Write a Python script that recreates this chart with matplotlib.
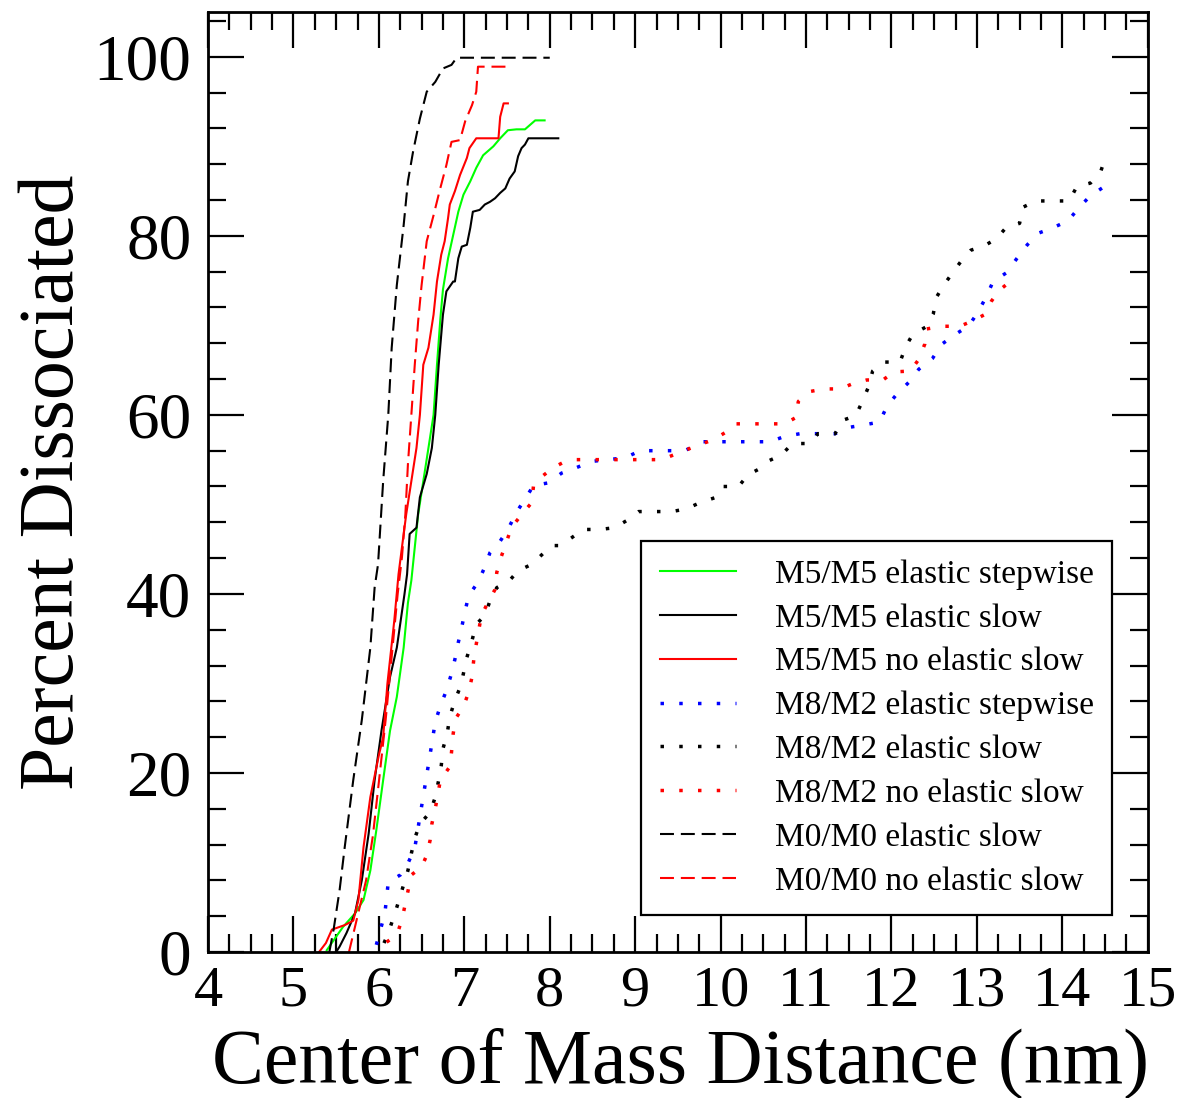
import matplotlib
matplotlib.use("Agg")
import matplotlib.pyplot as plt
from matplotlib.ticker import MultipleLocator

plt.rcParams["font.family"] = ["Liberation Serif", "DejaVu Serif"]

# M5/M5 curves (solid)
m5_step_x = [5.39, 5.47, 5.58, 5.72, 5.82, 5.90, 5.97, 6.05, 6.13, 6.21, 6.29, 6.34,
             6.38, 6.42, 6.46, 6.52, 6.58, 6.64, 6.68, 6.72, 6.75, 6.81, 6.87, 6.93,
             6.99, 7.07, 7.14, 7.22, 7.34, 7.42, 7.51, 7.61, 7.71, 7.83, 7.94]
m5_step_y = [0.2, 1.3, 2.8, 4.3, 5.8, 9.1, 13.6, 19.2, 24.7, 28.5, 34.0, 39.0,
             41.5, 45.2, 48.9, 52.6, 56.3, 60.0, 65.6, 70.8, 74.0, 77.5, 80.1, 82.7,
             84.6, 86.1, 87.6, 89.0, 90.0, 90.9, 91.8, 91.9, 91.9, 92.9, 92.9]

m5_slow_x = [5.50, 5.54, 5.62, 5.72, 5.80, 5.88, 5.95, 6.03, 6.13, 6.21, 6.30, 6.33,
             6.36, 6.44, 6.48, 6.56, 6.62, 6.66, 6.70, 6.75, 6.79, 6.87, 6.89, 6.93,
             6.97, 7.03, 7.07, 7.10, 7.18, 7.24, 7.30, 7.36, 7.42, 7.48, 7.53, 7.59,
             7.63, 7.67, 7.71, 7.75, 8.10]
m5_slow_y = [0.0, 0.6, 2.1, 4.3, 8.0, 13.2, 19.2, 24.7, 30.7, 34.0, 40.0, 42.2,
             46.7, 47.4, 50.8, 53.4, 56.3, 60.0, 65.6, 71.2, 73.8, 74.9, 74.9, 77.5,
             78.8, 79.0, 80.9, 82.7, 82.9, 83.5, 83.8, 84.2, 84.8, 85.3, 86.4, 87.2,
             88.9, 89.8, 90.2, 90.9, 90.9]

m5_noel_x = [5.30, 5.38, 5.45, 5.60, 5.70, 5.76, 5.82, 5.90, 6.00, 6.05, 6.10, 6.18,
             6.23, 6.27, 6.32, 6.38, 6.44, 6.48, 6.52, 6.58, 6.64, 6.68, 6.73, 6.77,
             6.81, 6.83, 6.89, 6.95, 7.03, 7.06, 7.14, 7.40, 7.42, 7.46, 7.51]
m5_noel_y = [0.0, 1.0, 2.5, 3.0, 3.5, 5.8, 11.7, 17.3, 22.0, 24.0, 30.0, 37.0,
             42.2, 45.2, 48.9, 52.6, 56.3, 60.0, 65.6, 67.5, 71.2, 74.9, 77.9, 79.4,
             82.0, 83.5, 85.0, 86.8, 88.7, 89.8, 90.9, 90.9, 93.3, 94.8, 94.8]

# M8/M2 curves (dotted)
m8_step_x = [5.97, 6.07, 6.11, 6.25, 6.34, 6.42, 6.48, 6.54, 6.60, 6.66, 6.72, 6.79,
             6.85, 6.89, 6.93, 6.97, 7.01, 7.05, 7.16, 7.24, 7.30, 7.42, 7.51, 7.61,
             7.71, 7.81, 7.98, 8.14, 8.31, 8.49, 8.68, 8.88, 9.06, 9.43, 9.60, 9.80,
             10.58, 10.75, 10.93, 11.34, 11.50, 11.69, 11.86, 11.95, 12.07, 12.21,
             12.32, 12.48, 12.59, 12.75, 12.91, 13.02, 13.11, 13.19, 13.35, 13.47,
             13.59, 13.72, 13.89, 14.07, 14.19, 14.32, 14.49]
m8_step_y = [0.8, 4.3, 7.8, 8.6, 9.9, 11.6, 15.1, 18.6, 22.1, 25.7, 27.5, 29.2,
             31.1, 32.7, 34.6, 36.3, 38.1, 39.8, 41.3, 43.0, 44.6, 45.9, 47.2, 49.1,
             50.6, 52.1, 52.4, 53.5, 54.1, 54.8, 55.0, 55.2, 56.0, 56.0, 56.1, 57.0,
             57.0, 57.6, 57.9, 57.9, 58.6, 58.9, 59.2, 61.0, 62.4, 63.7,
             65.1, 66.3, 67.9, 69.0, 70.0, 71.6, 73.2, 74.9, 75.9, 77.5,
             79.0, 80.3, 80.9, 81.7, 83.1, 84.4, 85.5]

m8_slow_x = [6.06, 6.11, 6.21, 6.34, 6.38, 6.42, 6.48, 6.60, 6.66, 6.70, 6.73, 6.75,
             6.80, 6.83, 6.89, 6.96, 7.03, 7.09, 7.14, 7.24, 7.30, 7.38, 7.53, 7.63,
             7.79, 7.91, 8.02, 8.12, 8.26, 8.39, 8.59, 8.76, 8.92, 9.04, 9.43, 9.60,
             9.76, 9.95, 10.03, 10.21, 10.32, 10.46, 10.57, 10.71, 10.84, 11.04,
             11.14, 11.34, 11.43, 11.58, 11.66, 11.73, 11.78, 11.91, 12.10, 12.17,
             12.25, 12.40, 12.49, 12.53, 12.62, 12.71, 12.81, 12.93, 13.09, 13.23,
             13.34, 13.50, 13.54, 13.69, 14.08, 14.17, 14.33, 14.45, 14.51]
m8_slow_y = [1.0, 2.1, 5.0, 9.1, 11.0, 12.7, 14.3, 15.6, 17.3, 19.2, 20.8, 22.7,
             24.4, 26.3, 28.1, 29.8, 32.9, 34.8, 36.6, 37.6, 39.2, 40.7, 41.5, 42.6,
             43.3, 44.4, 45.4, 45.4, 46.3, 47.2, 47.2, 47.4, 48.3, 49.2, 49.2, 49.5,
             50.2, 50.8, 52.0, 52.0, 53.3, 54.0, 54.9, 55.5, 56.8, 56.8,
             57.9, 57.9, 59.4, 59.9, 61.5, 63.1, 64.9, 65.9, 65.9, 67.7,
             69.0, 69.8, 71.3, 73.2, 74.6, 75.8, 77.1, 78.4, 78.9, 79.7,
             80.9, 81.4, 83.2, 83.9, 83.9, 85.5, 85.9, 87.2, 88.9]

m8_noel_x = [6.09, 6.21, 6.27, 6.38, 6.50, 6.56, 6.60, 6.62, 6.66, 6.72, 6.83, 6.85,
             6.87, 6.90, 6.99, 7.05, 7.09, 7.11, 7.14, 7.20, 7.28, 7.36, 7.38, 7.43,
             7.49, 7.55, 7.69, 7.79, 7.81, 7.92, 8.04, 8.16, 8.31, 9.31, 9.76, 9.91,
             10.05, 10.17, 10.75, 10.88, 10.91, 11.04, 11.21, 11.40, 11.55, 11.71,
             11.90, 12.03, 12.22, 12.32, 12.39, 12.41, 12.60, 12.80, 12.95, 13.09,
             13.17, 13.26, 13.39]
m8_noel_y = [1.1, 1.9, 3.6, 8.6, 9.5, 10.8, 12.5, 14.3, 16.0, 19.2, 20.7, 22.3,
             24.4, 26.1, 27.4, 29.0, 30.7, 32.6, 34.4, 37.6, 39.1, 40.5, 42.4, 44.1,
             45.7, 47.4, 49.1, 50.2, 52.1, 53.2, 54.1, 54.7, 55.0, 55.0, 56.7, 57.2,
             58.0, 59.0, 59.0, 59.7, 61.5, 62.6, 62.9, 62.9, 63.5, 63.9,
             63.9, 64.8, 64.9, 66.2, 67.9, 69.6, 69.9, 69.9, 70.5, 71.2,
             72.7, 73.9, 74.9]

# M0/M0 curves (dashed)
m0_slow_x = [5.42, 5.47, 5.54, 5.60, 5.70, 5.80, 5.90, 5.95, 5.99, 6.05, 6.11, 6.15,
             6.21, 6.29, 6.34, 6.40, 6.48, 6.56, 6.66, 6.75, 6.85, 6.91, 8.00]
m0_slow_y = [0.0, 2.5, 6.9, 11.7, 19.2, 25.9, 34.0, 40.7, 43.3, 52.6, 60.0, 67.5,
             74.5, 81.2, 86.1, 89.4, 93.1, 96.1, 97.2, 98.7, 99.1, 99.9, 99.9]

m0_noel_x = [5.65, 5.75, 5.85, 5.93, 6.00, 6.08, 6.15, 6.22, 6.27, 6.31, 6.34, 6.38,
             6.42, 6.46, 6.50, 6.56, 6.64, 6.71, 6.79, 6.85, 6.95, 7.01, 7.09, 7.14,
             7.16, 7.51]
m0_noel_y = [0.0, 4.0, 8.0, 13.0, 19.0, 26.0, 33.0, 40.0, 44.1, 48.9, 54.5, 60.0,
             65.6, 70.5, 74.5, 79.4, 82.3, 85.0, 87.9, 90.5, 90.7, 92.8, 94.6, 96.1,
             98.9, 98.9]

x_ticks = [4, 5, 6, 7, 8, 9, 10, 11, 12, 13, 14, 15]
y_ticks = [0, 20, 40, 60, 80, 100]

fig = plt.figure(figsize=(11.82, 10.98), dpi=100)
ax = fig.add_axes([0.176, 0.133, 0.795, 0.856])

lw = 1.5
dash = (6.7, 3.3)
dot = (1, 4.4)
dlw = 2.5
ax.plot(m5_step_x, m5_step_y, color="#00ff00", lw=lw, label="M5/M5 elastic stepwise")
ax.plot(m5_slow_x, m5_slow_y, color="black", lw=lw, label="M5/M5 elastic slow")
ax.plot(m5_noel_x, m5_noel_y, color="red", lw=lw, label="M5/M5 no elastic slow")
ax.plot(m8_step_x, m8_step_y, color="blue", lw=dlw, ls=(0, dot), label="M8/M2 elastic stepwise")
ax.plot(m8_slow_x, m8_slow_y, color="black", lw=dlw, ls=(0, dot), label="M8/M2 elastic slow")
ax.plot(m8_noel_x, m8_noel_y, color="red", lw=dlw, ls=(0, dot), label="M8/M2 no elastic slow")
ax.plot(m0_slow_x, m0_slow_y, color="black", lw=lw, ls=(0, dash), label="M0/M0 elastic slow")
ax.plot(m0_noel_x, m0_noel_y, color="red", lw=lw, ls=(0, dash), label="M0/M0 no elastic slow")

ax.set_xlim(4, 15)
ax.set_ylim(0, 105)
ax.set_xticks(x_ticks)
ax.set_yticks(y_ticks)
ax.xaxis.set_minor_locator(MultipleLocator(0.25))
ax.yaxis.set_minor_locator(MultipleLocator(4))
ax.tick_params(which="both", direction="in", top=True, right=True, width=1.6)
ax.tick_params(which="major", length=26)
ax.tick_params(which="minor", length=13)
ax.tick_params(axis="y", labelsize=47, pad=12)
ax.tick_params(axis="x", labelsize=42, pad=10)
for s in ax.spines.values():
    s.set_linewidth(2.0)

ax.set_xlabel("Center of Mass Distance (nm)", fontsize=56)
ax.set_ylabel("Percent Dissociated", fontsize=56)
ax.xaxis.set_label_coords(0.503, -0.080)
ax.yaxis.set_label_coords(-0.126, 0.5)

leg = ax.legend(loc="lower left", bbox_to_anchor=(0.461, 0.0395), fontsize=24,
                frameon=True, fancybox=False, framealpha=1, edgecolor="black",
                handlelength=2.3, handletextpad=1.15, labelspacing=0.4,
                borderpad=0.55, borderaxespad=0)
leg.get_frame().set_linewidth(1.6)

fig.savefig("out.png", dpi=100)
